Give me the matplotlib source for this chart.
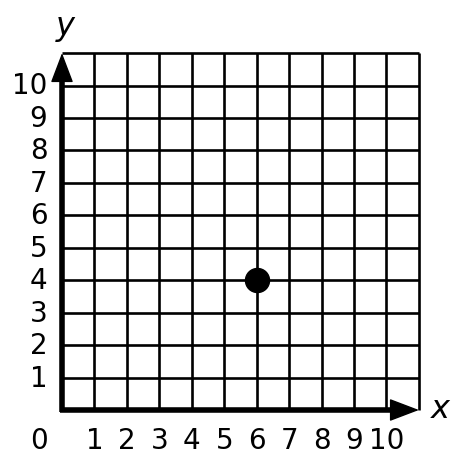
import matplotlib
matplotlib.use("Agg")
import matplotlib.pyplot as plt

# grid and labels
grid_max = 11
x_ticks = [1, 2, 3, 4, 5, 6, 7, 8, 9, 10]
y_ticks = [1, 2, 3, 4, 5, 6, 7, 8, 9, 10]
x_tick_labels = [str(v) for v in x_ticks]
y_tick_labels = [str(v) for v in y_ticks]

# plotted point
point_x = [6]
point_y = [4]

fig = plt.figure(figsize=(4.56, 4.56), dpi=100)
ax = fig.add_axes([0, 0, 1, 1])
# 1 unit = 32.45 px, origin at pixel (62, 411)
u = 32.45
ax.set_xlim(-62 / u, (456 - 62) / u)
ax.set_ylim(-(456 - 411) / u, 411 / u)
ax.axis("off")

# grid lines
for i in range(1, grid_max + 1):
    ax.plot([i, i], [0, grid_max], color="black", lw=1.9, solid_capstyle="butt")
    ax.plot([0, grid_max], [i, i], color="black", lw=1.9, solid_capstyle="butt")

# axes with arrows
ax.plot([0, 0], [-0.06, grid_max - 0.5], color="black", lw=4, solid_capstyle="butt")
ax.plot([-0.06, grid_max - 0.5], [0, 0], color="black", lw=4, solid_capstyle="butt")
head = dict(arrowstyle="-|>,head_length=1.0,head_width=0.38", color="black",
            lw=1, mutation_scale=19, shrinkA=0, shrinkB=0)
ax.annotate("", xy=(0, grid_max), xytext=(0, grid_max - 1.5), arrowprops=head)
ax.annotate("", xy=(grid_max, 0), xytext=(grid_max - 1.5, 0), arrowprops=head)

fs = 20
for x, lab in zip(x_ticks, x_tick_labels):
    ax.text(x, -0.93, lab, ha="center", va="center", fontsize=fs)
for y, lab in zip(y_ticks, y_tick_labels):
    ax.text(-0.45, y, lab, ha="right", va="center", fontsize=fs)
ax.text(-0.71, -0.93, "0", ha="center", va="center", fontsize=fs)

ax.text(0.1, 11.85, "y", ha="center", va="center", fontsize=23, style="italic")
ax.text(11.65, 0.05, "x", ha="center", va="center", fontsize=23, style="italic")

ax.scatter(point_x, point_y, s=300, color="black", zorder=5)

fig.savefig("out.png", dpi=100)
